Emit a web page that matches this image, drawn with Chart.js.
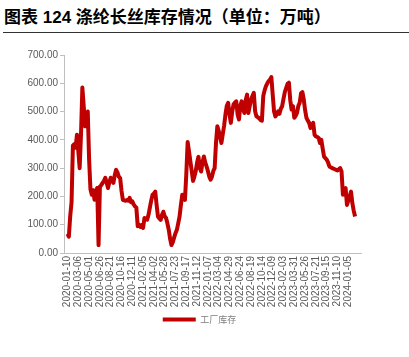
<!DOCTYPE html>
<html><head><meta charset="utf-8">
<script src="https://cdn.jsdelivr.net/npm/chart.js@4"></script>
<style>
html,body{margin:0;padding:0;background:#fff;}
#wrap{position:relative;width:409px;height:357px;overflow:hidden;}
#title{position:absolute;left:4px;top:8px;font:bold 17px "Liberation Sans","Noto Sans CJK SC",sans-serif;color:#000;white-space:nowrap;line-height:20px;}
#rule{position:absolute;left:3px;right:0;top:32px;height:0;border-top:1px solid #333;}
canvas{position:absolute;left:0;top:0;}
</style></head>
<body>
<div id="wrap">
<div id="title">图表 124 涤纶长丝库存情况（单位：万吨）</div>
<div id="rule"></div>
<canvas id="c" width="409" height="357"></canvas>
</div>
<script>
const seriesName = "工厂库存";
const tickLabels = ["2020-01-10","2020-03-06","2020-05-01","2020-06-26","2020-08-21","2020-10-16","2020-12-11",
"2021-02-05","2021-04-02","2021-05-28","2021-07-23","2021-09-17","2021-11-12","2022-01-07","2022-03-04",
"2022-04-29","2022-06-24","2022-08-19","2022-10-14","2022-12-09","2023-02-03","2023-03-31","2023-05-26",
"2023-07-21","2023-09-15","2023-11-10","2024-01-05"];
const weeksPerTick = 8;
// weekly factory inventory, from 2020-01-10 onward (万吨)
const inventory = [
68,58,130,180,380,385,372,418,360,300,
420,585,520,448,470,500,330,225,206,222,
188,215,230,28,235,240,248,255,266,248,
230,250,266,255,248,275,294,285,270,265,
220,188,186,185,187,185,195,180,183,172,
165,160,95,100,92,99,89,124,120,118,
135,160,185,206,210,217,170,129,122,117,
135,146,130,124,105,82,50,28,38,55,
70,82,105,129,170,206,195,188,280,392,
360,324,290,255,270,290,320,340,300,288,
320,341,320,306,290,270,259,270,290,300,
390,448,432,410,389,420,450,490,520,531,
490,460,500,525,532,536,490,472,520,536,
510,495,540,560,495,520,543,555,566,500,
483,480,476,470,468,555,575,590,600,608,
613,622,560,500,483,490,501,492,510,519,
545,570,584,598,602,540,507,519,478,485,
495,520,531,565,569,543,505,478,468,460,
442,450,460,418,412,410,407,389,400,370,
341,335,330,320,306,303,300,298,296,294,
292,296,300,288,206,225,229,170,185,200,
217,176,150,129];
const yTicks = {min:0, max:700, step:100};

const points = inventory.map((v,i)=>({x:i,y:v}));
const axisGray = '#BFBFBF';
const textGray = '#595959';

new Chart(document.getElementById('c'), {
  type:'line',
  data:{datasets:[{label:seriesName,data:points,borderColor:'#C00000',backgroundColor:'#C00000',
    borderWidth:4,pointRadius:0,tension:0,borderJoinStyle:'round'}]},
  options:{
    responsive:false, animation:false,
    layout:{padding:{top:55,right:10,bottom:23,left:0}},
    plugins:{
      tooltip:{enabled:false},
      legend:{position:'bottom',labels:{usePointStyle:true,pointStyle:'line',pointStyleWidth:33,padding:5,
        color:'#7F7F7F',font:{size:9,family:'"Noto Sans CJK SC"'}}}
    },
    scales:{
      x:{type:'linear',min:-2.6,max:217.4,
        grid:{display:false,drawTicks:false},
        border:{display:true,color:axisGray,width:1},
        afterBuildTicks:a=>{a.ticks=tickLabels.map((t,i)=>({value:i*weeksPerTick}));},
        afterFit:s=>{s.height=57;},
        ticks:{autoSkip:false,maxRotation:90,minRotation:90,padding:3,color:textGray,
          font:{size:10,family:'"Liberation Sans"'},
          callback:v=>tickLabels[Math.round(v/weeksPerTick)]}
      },
      y:{min:yTicks.min,max:yTicks.max,
        afterFit:s=>{s.width=64;},
        grid:{drawOnChartArea:false,drawTicks:true,tickLength:4,color:axisGray},
        border:{display:true,color:axisGray,width:1},
        ticks:{stepSize:yTicks.step,padding:2,color:textGray,font:{size:10,family:'"Liberation Sans"'},
          callback:v=>Number(v).toFixed(2)}
      },
      spacer:{position:'right',display:true,
        afterFit:s=>{s.width=38;},
        grid:{display:false},border:{display:false},ticks:{display:false}}
    }
  }
});
</script>
</body></html>
